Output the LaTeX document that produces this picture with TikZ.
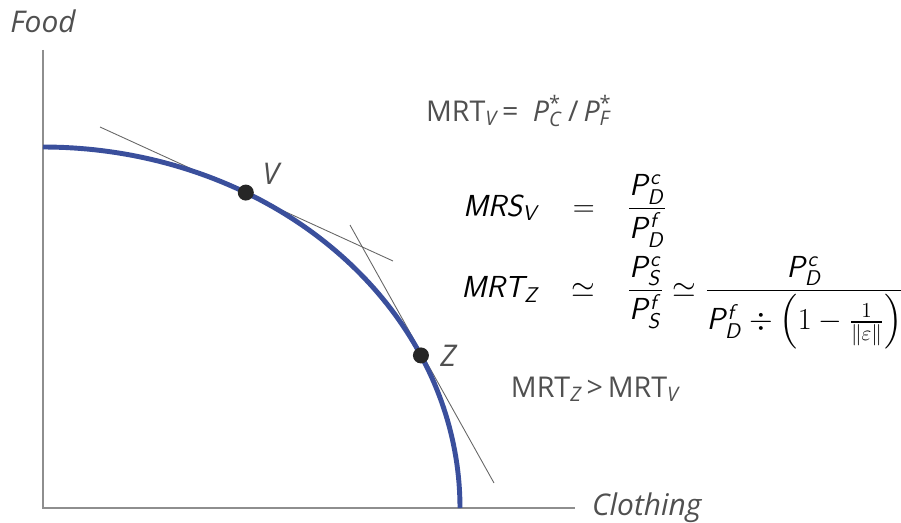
\RequirePackage{fix-cm}
\documentclass[tikz,border=0pt]{standalone}
\usepackage{amsmath,amssymb}
\usepackage{fontspec}
\newfontfamily\labelfont{Open Sans}
\usepackage{tikz}
\usetikzlibrary{positioning}

\DeclareSymbolFont{sfletters}{OT1}{cmss}{m}{sl}
\DeclareSymbolFont{sfdigits}{OT1}{cmss}{m}{n}
\DeclareMathSymbol{M}{\mathalpha}{sfletters}{`M}
\DeclareMathSymbol{R}{\mathalpha}{sfletters}{`R}
\DeclareMathSymbol{S}{\mathalpha}{sfletters}{`S}
\DeclareMathSymbol{T}{\mathalpha}{sfletters}{`T}
\DeclareMathSymbol{V}{\mathalpha}{sfletters}{`V}
\DeclareMathSymbol{Z}{\mathalpha}{sfletters}{`Z}
\DeclareMathSymbol{P}{\mathalpha}{sfletters}{`P}
\DeclareMathSymbol{D}{\mathalpha}{sfletters}{`D}
\DeclareMathSymbol{c}{\mathalpha}{sfletters}{`c}
\DeclareMathSymbol{f}{\mathalpha}{sfletters}{`f}
\DeclareMathSymbol{1}{\mathalpha}{sfdigits}{`1}

\definecolor{ppfblue}{HTML}{3A4F9C}
\definecolor{axisgray}{HTML}{8E8E8E}
\definecolor{labelgray}{HTML}{505050}

\newcommand\supsub[2]{\rlap{\textsuperscript{#1}}\textsubscript{\itshape #2}\kern1pt}

\begin{document}
\begin{tikzpicture}[
  x=0.02cm, y=-0.02cm,
  node distance=3mm,
  axis/.style={draw=axisgray,line width=1.3pt},
  frontier/.style={draw=ppfblue,line width=2.8pt},
  tangent/.style={draw=black!60,line width=0.5pt},
  point/.style={circle,fill=black!85,inner sep=0pt,minimum size=3.2mm},
  axislabel/.style={font=\labelfont\itshape\fontsize{17}{20}\selectfont,text=labelgray,inner sep=1pt},
  note/.style={font=\labelfont\fontsize{16.3}{19}\selectfont,text=labelgray,inner sep=1pt},
  rates/.style={font=\fontsize{17.3}{21}\selectfont,inner sep=0pt}
]
\useasboundingbox (0,0) rectangle (901,523);

\coordinate (O) at (43,508);
\coordinate (ytop) at (43,50);
\coordinate (xend) at (575,508);
\coordinate (V) at ({43+417*cos(60.9)},{508-361*sin(60.9)});
\coordinate (Z) at ({43+417*cos(25)},{508-361*sin(25)});
\coordinate (v1) at (100,127);
\coordinate (v2) at (393,261);
\coordinate (z1) at (350,225);
\coordinate (z2) at (494,483);

\draw[axis] (ytop) -- (O) -- (xend);
\node[axislabel] (food) [above=3mm of ytop] {Food};
\node[axislabel] (clothing) [right=3mm of xend] {Clothing};

\draw[tangent] (v1) -- (v2);
\draw[tangent] (z1) -- (z2);
\draw[frontier] plot[domain=90:0,samples=90] ({43+417*cos(\x)},{508-361*sin(\x)});

\node[point] (v) at (V) {};
\node[point] (z) at (Z) {};
\node[axislabel] (vlab) [above right=0pt and 5pt of v] {V};
\node[axislabel] (zlab) [right=1.8mm of z] {Z};

\node[note] (mrtv) at (519,111) {MRT\textsubscript{\itshape V}\,=\enspace\textit{P}\supsub{*}{C}\,/\,\textit{P}\supsub{*}{F}};
\node[note] (compare) at (595,389) {MRT\textsubscript{\itshape Z}\,>\,MRT\textsubscript{\itshape V}};

\node[rates,anchor=west] (ratios) at (461,262) {\setlength{\arraycolsep}{9pt}$
\begin{array}{@{}rcl@{}}
\displaystyle MRS_V & = & \displaystyle\frac{P^c_D}{P^f_D}\\
\noalign{\vskip 5pt}
\displaystyle MRT_Z & \simeq & \displaystyle\frac{P^c_S}{P^f_S}\simeq\frac{P^c_D}{P^f_D\div\left(1-\frac{1}{\|\varepsilon\|}\right)}
\end{array}$};
\end{tikzpicture}
\end{document}
